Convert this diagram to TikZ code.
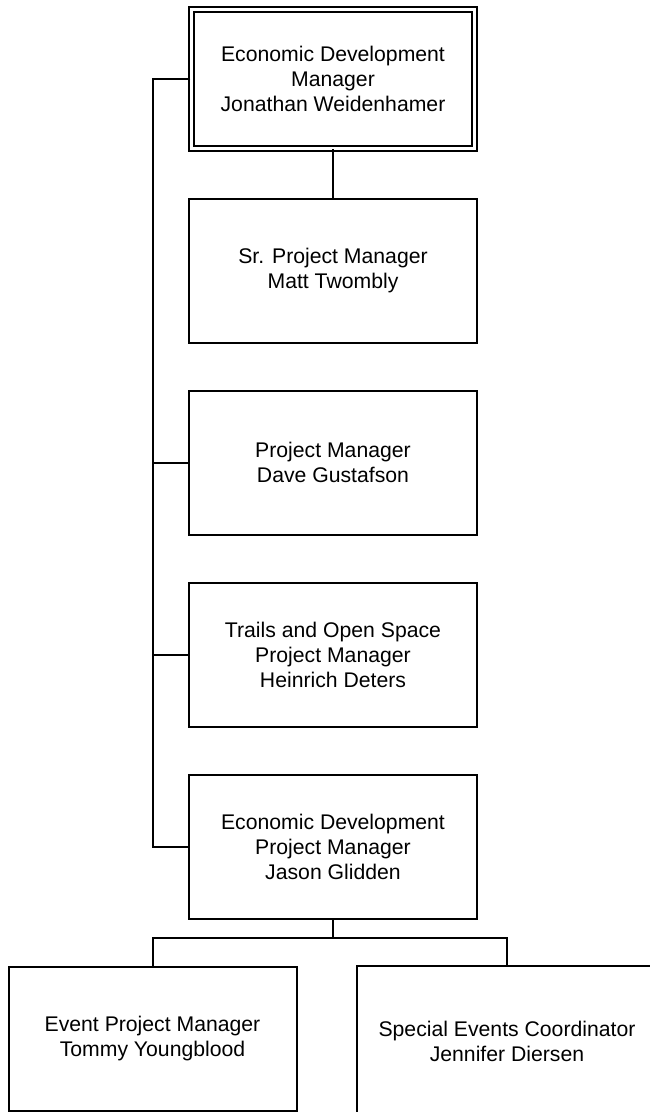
\documentclass[tikz,border=0pt]{standalone}
\usepackage{fontspec}
\setmainfont{Liberation Sans}
\begin{document}
\begin{tikzpicture}[x=1pt,y=-1pt,
  box/.style={draw, line width=2pt, minimum width=288pt, minimum height=144pt,
    align=center, inner sep=0pt, font=\fontsize{21.2}{25}\selectfont},
  topbox/.style={box, double, line width=1.8pt, double distance=3pt,
    minimum width=283.5pt, minimum height=139pt},
  link/.style={line width=2pt}]
\useasboundingbox (0,0) rectangle (650,1112);
\clip (0,0) rectangle (650,1112);
\node[topbox] (edm) at (333,79) {Economic Development\\Manager\\Jonathan Weidenhamer};
\node[box] (sr) at (333,271) {Sr. Project Manager\\Matt Twombly};
\node[box] (pm) at (333,462.5) {Project Manager\\Dave Gustafson};
\node[box] (tr) at (333,655) {Trails and Open Space\\Project Manager\\Heinrich Deters};
\node[box] (ed) at (333,847) {Economic Development\\Project Manager\\Jason Glidden};
\node[box] (ev) at (152.5,1039) {Event Project Manager\\Tommy Youngblood};
\node[box, minimum width=300pt, minimum height=150pt] (se) at (507,1041) {Special Events Coordinator\\Jennifer Diersen};
\coordinate (spine) at (153,79);
\coordinate (bus) at (333,938);
\draw[link] (edm.west) -- (spine) |- (ed.west);
\draw[link] (pm.west) -- (pm.west -| spine);
\draw[link] (tr.west) -- (tr.west -| spine);
\draw[link] (edm.south) -- (sr.north);
\draw[link] (ed.south) -- (bus);
\draw[link] (ev.north) |- (bus) -| (se.north);
\end{tikzpicture}
\end{document}
